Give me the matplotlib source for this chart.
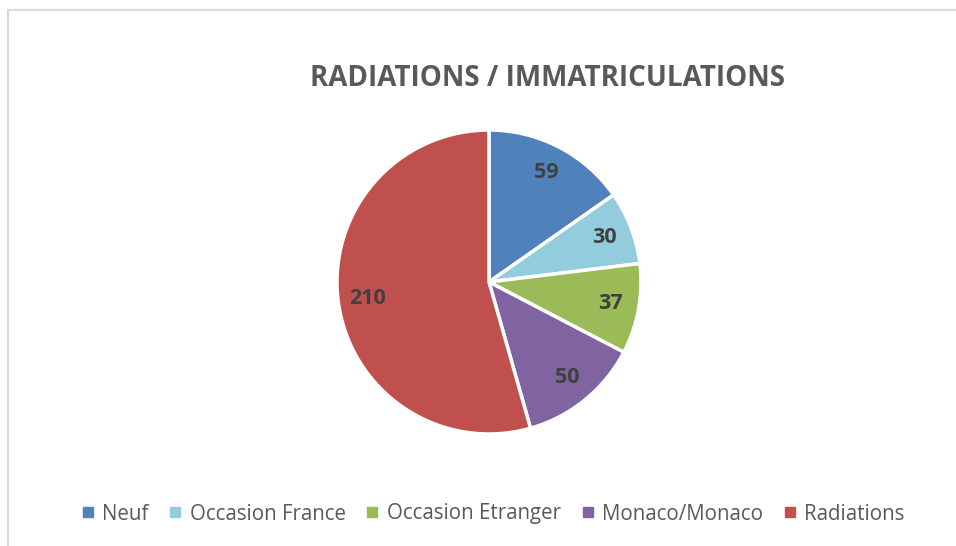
import matplotlib
matplotlib.use('Agg')
import matplotlib.pyplot as plt
from matplotlib.lines import Line2D

# data
labels = ["Neuf", "Occasion France", "Occasion Etranger", "Monaco/Monaco", "Radiations"]
values = [59, 30, 37, 50, 210]
colors = ["#4F81BD", "#93CDDD", "#9BBB59", "#8064A2", "#C0504D"]
title = "RADIATIONS / IMMATRICULATIONS"

W, H = 956, 546
fig = plt.figure(figsize=(W / 100, H / 100), dpi=100)
fig.patch.set_facecolor('white')

# pie centre (489, 282) px, radius 152 px
r = 152
lim = 1.05
side = 2 * lim * r
ax = fig.add_axes([(489 - side / 2) / W, (H - 282 - side / 2) / H, side / W, side / H])

total = sum(values)
wedges, texts, autotexts = ax.pie(
    values, colors=colors, startangle=90, counterclock=False,
    wedgeprops=dict(edgecolor='white', linewidth=2.5),
    autopct=lambda p: '%d' % round(p * total / 100.0),
    pctdistance=0.81,
    textprops=dict(fontfamily='Open Sans', fontweight='bold', fontsize=15.5, color='#404040'))
ax.set_xlim(-lim, lim)
ax.set_ylim(-lim, lim)
ax.set_aspect('equal')
ax.axis('off')

fig.text(547 / W, 1 - 86 / H, title, ha='center', va='baseline',
         fontfamily='Open Sans', fontweight='bold', fontsize=20, color='#595959')

# chart frame (top and left edges visible)
fig.add_artist(Line2D([7.5 / W, 1], [1 - 10 / H, 1 - 10 / H], transform=fig.transFigure,
                      color='#D9D9D9', lw=1.5))
fig.add_artist(Line2D([7.5 / W, 7.5 / W], [0, 1 - 10 / H], transform=fig.transFigure,
                      color='#D9D9D9', lw=1.5))

handles = [Line2D([], [], marker='s', linestyle='none', markersize=6.5,
                  markerfacecolor=c, markeredgecolor=c) for c in colors]
leg = fig.legend(handles, labels, loc='center', bbox_to_anchor=(493 / W, 1 - 514 / H),
                 ncol=5, frameon=False, handlelength=0.6, handletextpad=0.4,
                 columnspacing=1.0, prop=dict(family='Open Sans', size=14.8))
for t in leg.get_texts():
    t.set_color('#595959')

fig.savefig('out.png', dpi=100, facecolor='white')
